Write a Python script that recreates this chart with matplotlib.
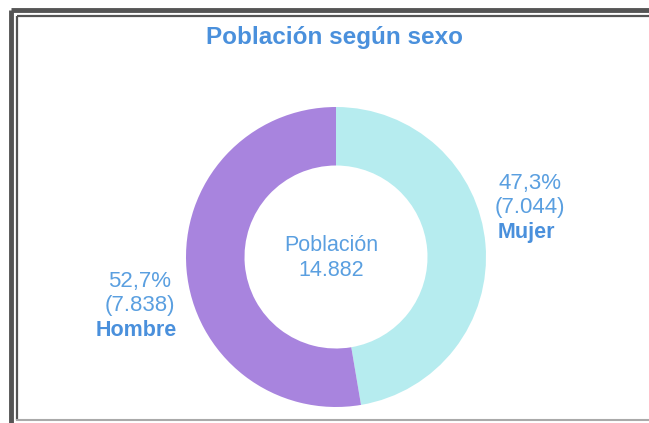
import matplotlib.pyplot as plt

# Datos
categorias = ["Mujer", "Hombre"]
valores = [7044, 7838]
colores = ["#b6ecef", "#a884de"]

total = sum(valores)

def miles(n):
    return f"{n:,}".replace(",", ".")

W, H = 649, 423
fig = plt.figure(figsize=(W / 100, H / 100), dpi=100)
ax = fig.add_axes([0, 0, 1, 1])

cx, cy, r = 336, H - 257, 150
ax.pie(valores, colors=colores, startangle=90, counterclock=False,
       center=(cx, cy), radius=r,
       wedgeprops=dict(width=r * 0.39, linewidth=0))

ax.set_xlim(0, W)
ax.set_ylim(0, H)
ax.set_aspect("equal")
ax.axis("off")

# marco
gris = "#555555"
ax.plot([11, 11], [0, H - 10], color=gris, lw=3.5, solid_capstyle="butt")
ax.plot([11, W], [H - 10, H - 10], color=gris, lw=3.5, solid_capstyle="butt")
ax.plot([17, 17], [3, H - 16], color=gris, lw=1.6, solid_capstyle="butt")
ax.plot([17, W], [H - 16, H - 16], color=gris, lw=1.6, solid_capstyle="butt")
ax.plot([17, W], [3, 3], color="#aaaaaa", lw=1.5)

azul = "#4a90dc"
azul_claro = "#5a9fe0"
fuente = "Liberation Sans"

ax.text(cx - 1, H - 37, "Población según sexo", ha="center", va="center",
        fontsize=17.5, fontweight="bold", color=azul, family=fuente)

ax.text(331, H - 245, "Población", ha="center", va="center",
        fontsize=15.5, color=azul_claro, family=fuente)
ax.text(331, H - 270, miles(total), ha="center", va="center",
        fontsize=15.5, color=azul_claro, family=fuente)

posiciones = [(530, 183), (140, 282)]
for cat, val, (x, y) in zip(categorias, valores, posiciones):
    pct = f"{100 * val / total:.1f}".replace(".", ",") + "%"
    ax.text(x, H - y, pct, ha="center", va="center",
            fontsize=16, color=azul_claro, family=fuente)
    ax.text(x, H - y - 24, f"({miles(val)})", ha="center", va="center",
            fontsize=16, color=azul_claro, family=fuente)
    ax.text(x - 4, H - y - 49, cat, ha="center", va="center",
            fontsize=15.5, fontweight="bold", color=azul, family=fuente)

fig.savefig("out.png", dpi=100)
